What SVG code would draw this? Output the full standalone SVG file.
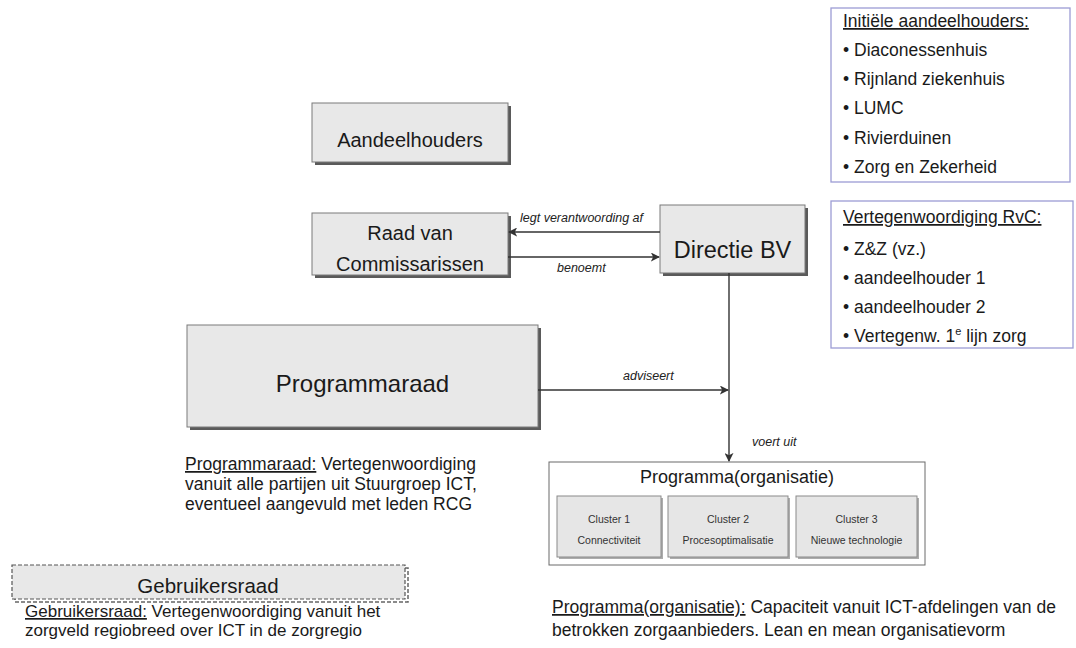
<svg xmlns="http://www.w3.org/2000/svg" width="1076" height="648" viewBox="0 0 1076 648">
  <style>
    text { font-family: "Liberation Sans", Arial, sans-serif; fill: #1a1a1a; }
    .box { fill: #e8e8e8; stroke: #7a7a7a; stroke-width: 1; }
    .shadow { fill: #5a5a5a; }
    .lbl { font-style: italic; font-size: 12.5px; fill: #222; }
    .list { fill: #ffffff; stroke: #9c9cd4; stroke-width: 1.3; }
    .li { font-size: 17.5px; }
    .u { text-decoration: underline; }
    .conn { stroke: #333; stroke-width: 1.4; fill: none; }
    .cl { fill: #e6e6e6; stroke: #8a8a8a; stroke-width: 1; }
    .clt { font-size: 10.5px; fill: #333; text-anchor: middle; }
    .desc { font-size: 17.5px; }
  </style>
  <defs>
    <marker id="arrow" viewBox="0 0 10 10" refX="9" refY="5" markerWidth="9" markerHeight="9" markerUnits="userSpaceOnUse" orient="auto">
      <path d="M0,0 L10,5 L0,10 L2.5,5 Z" fill="#333"/>
    </marker>
  </defs>

  <!-- shareholders list -->
  <g id="initiele-aandeelhouders">
    <rect class="list" x="831" y="8" width="239" height="174"/>
    <text class="li" x="843" y="27"><tspan class="u">Initiële aandeelhouders:</tspan></text>
    <text class="li" x="843" y="56">• Diaconessenhuis</text>
    <text class="li" x="843" y="85">• Rijnland ziekenhuis</text>
    <text class="li" x="843" y="114">• LUMC</text>
    <text class="li" x="843" y="144">• Rivierduinen</text>
    <text class="li" x="843" y="173">• Zorg en Zekerheid</text>
  </g>

  <!-- supervisory board composition -->
  <g id="vertegenwoordiging-rvc">
    <rect class="list" x="831" y="201" width="242" height="147"/>
    <text class="li" x="843" y="223"><tspan class="u">Vertegenwoordiging RvC:</tspan></text>
    <text class="li" x="843" y="255">• Z&amp;Z (vz.)</text>
    <text class="li" x="843" y="284">• aandeelhouder 1</text>
    <text class="li" x="843" y="313">• aandeelhouder 2</text>
    <text class="li" x="843" y="342">• Vertegenw. 1<tspan font-size="11" dy="-7">e</tspan><tspan dy="7"> lijn zorg</tspan></text>
  </g>

  <g id="aandeelhouders">
    <rect class="shadow" x="315" y="106" width="196" height="59"/>
    <rect class="box" x="312" y="103" width="196" height="59"/>
    <text x="410" y="147" font-size="20" text-anchor="middle">Aandeelhouders</text>
  </g>

  <g id="raad-van-commissarissen">
    <rect class="shadow" x="315" y="216" width="196" height="62"/>
    <rect class="box" x="312" y="213" width="196" height="62"/>
    <text x="410" y="240" font-size="20" text-anchor="middle">Raad van</text>
    <text x="410" y="271" font-size="20" text-anchor="middle">Commissarissen</text>
  </g>

  <g id="directie-bv">
    <rect class="shadow" x="663" y="208" width="145" height="68"/>
    <rect class="box" x="660" y="205" width="145" height="68"/>
    <text x="732.5" y="258" font-size="23.5" text-anchor="middle">Directie BV</text>
  </g>

  <g id="programmaraad">
    <rect class="shadow" x="190" y="328" width="351" height="102"/>
    <rect class="box" x="187" y="325" width="351" height="102"/>
    <text x="362.5" y="392" font-size="24" text-anchor="middle">Programmaraad</text>
    <text class="desc" x="185" y="470"><tspan class="u">Programmaraad:</tspan> Vertegenwoordiging</text>
    <text class="desc" x="185" y="490">vanuit alle partijen uit Stuurgroep ICT,</text>
    <text class="desc" x="185" y="510">eventueel aangevuld met leden RCG</text>
  </g>

  <g id="programma-organisatie">
    <rect x="549" y="462" width="376" height="103" fill="#ffffff" stroke="#6a6a6a" stroke-width="1"/>
    <text x="737" y="483" font-size="18" text-anchor="middle">Programma(organisatie)</text>
    <g id="cluster-1">
      <rect class="shadow" x="559" y="498" width="104" height="61" opacity="0.5"/>
      <rect class="cl" x="557" y="496" width="104" height="61"/>
      <text class="clt" x="609" y="523">Cluster 1</text>
      <text class="clt" x="609" y="544">Connectiviteit</text>
    </g>
    <g id="cluster-2">
      <rect class="shadow" x="670" y="498" width="120" height="61" opacity="0.5"/>
      <rect class="cl" x="668" y="496" width="120" height="61"/>
      <text class="clt" x="728" y="523">Cluster 2</text>
      <text class="clt" x="728" y="544">Procesoptimalisatie</text>
    </g>
    <g id="cluster-3">
      <rect class="shadow" x="798" y="498" width="121" height="61" opacity="0.5"/>
      <rect class="cl" x="796" y="496" width="121" height="61"/>
      <text class="clt" x="856.5" y="523">Cluster 3</text>
      <text class="clt" x="856.5" y="544">Nieuwe technologie</text>
    </g>
    <text x="552" y="613" font-size="17.5"><tspan class="u">Programma(organisatie):</tspan> Capaciteit vanuit ICT-afdelingen van de</text>
    <text x="552" y="636" font-size="17.5">betrokken zorgaanbieders. Lean en mean organisatievorm</text>
  </g>

  <g id="gebruikersraad">
    <rect x="15" y="568" width="393" height="34" fill="none" stroke="#666" stroke-width="1.5" stroke-dasharray="4 2"/>
    <rect x="12" y="565" width="393" height="34" fill="#e8e8e8" stroke="#555" stroke-width="1.2" stroke-dasharray="4 2"/>
    <text x="208" y="593" font-size="20.5" text-anchor="middle">Gebruikersraad</text>
    <text x="25" y="617" font-size="17"><tspan class="u">Gebruikersraad:</tspan> Vertegenwoordiging vanuit het</text>
    <text x="25" y="636" font-size="17">zorgveld regiobreed over ICT in de zorgregio</text>
  </g>

  <!-- connectors -->
  <g id="connectors">
    <line class="conn" x1="660" y1="232" x2="509" y2="232" marker-end="url(#arrow)"/>
    <text class="lbl" x="520" y="222">legt verantwoording af</text>
    <line class="conn" x1="508" y1="257" x2="659" y2="257" marker-end="url(#arrow)"/>
    <text class="lbl" x="557" y="272">benoemt</text>
    <line class="conn" x1="729" y1="273" x2="729" y2="461" marker-end="url(#arrow)"/>
    <text class="lbl" x="752" y="446">voert uit</text>
    <line class="conn" x1="538" y1="390" x2="728" y2="390" marker-end="url(#arrow)"/>
    <text class="lbl" x="623" y="380">adviseert</text>
  </g>
</svg>
